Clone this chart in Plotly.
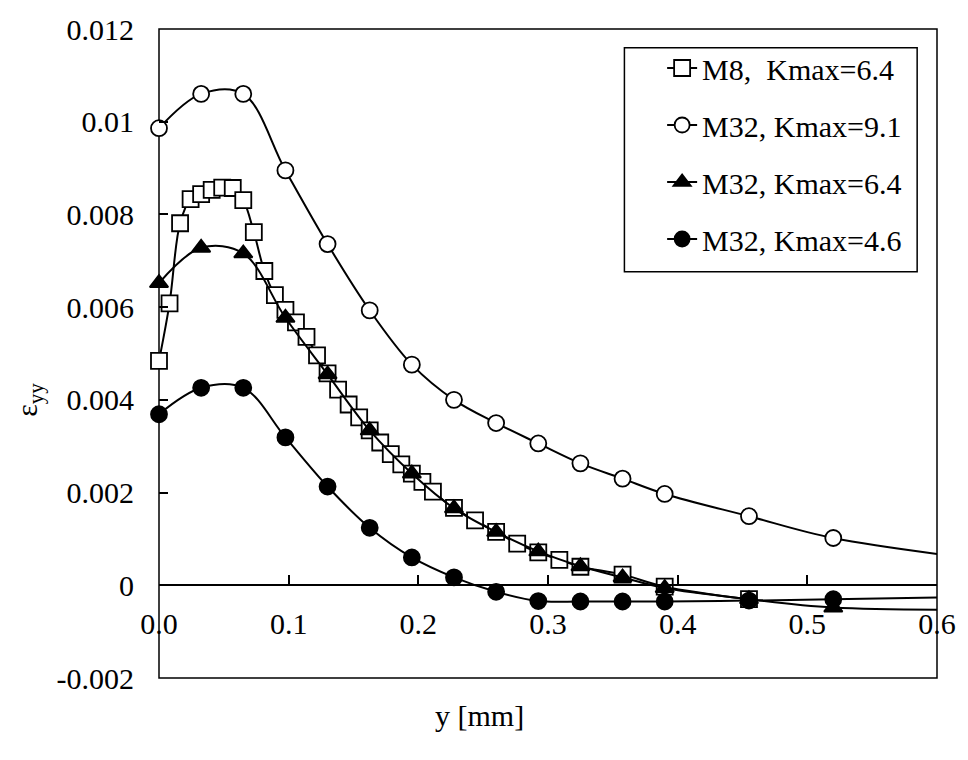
import plotly.graph_objects as go

# ---- data ----
x_m8 = [0, 0.008125, 0.01625, 0.024375, 0.0325, 0.040625, 0.04875, 0.056875,
        0.065, 0.073125, 0.08125, 0.089375, 0.0975, 0.105625, 0.11375, 0.121875,
        0.13, 0.138125, 0.14625, 0.154375, 0.1625, 0.170625, 0.17875, 0.186875,
        0.195, 0.203125, 0.21125, 0.2275, 0.24375, 0.26, 0.27625, 0.2925,
        0.30875, 0.325, 0.3575, 0.39, 0.455]
y_m8 = [0.00484, 0.00608, 0.00781, 0.00833, 0.00844, 0.00853, 0.00858, 0.00857,
        0.00831, 0.00762, 0.00678, 0.00626, 0.00594, 0.00567, 0.00536, 0.00496,
        0.00457, 0.00422, 0.00390, 0.00362, 0.00334, 0.00308, 0.00283, 0.00261,
        0.00241, 0.00223, 0.00202, 0.00167, 0.00140, 0.00115, 0.00090, 0.00071,
        0.00055, 0.00040, 0.00023, -0.00003, -0.00030]

# M32 series share x positions; the last point lies beyond the axis range (line only)
x_m32 = [0, 0.0325, 0.065, 0.0975, 0.13, 0.1625, 0.195, 0.2275, 0.26, 0.2925,
         0.325, 0.3575, 0.39, 0.455, 0.52, 0.65]
y_k91 = [0.00986, 0.01060, 0.01060, 0.00895, 0.00736, 0.00593, 0.00476, 0.00400,
         0.00350, 0.00306, 0.00263, 0.00230, 0.00197, 0.00149, 0.00102, 0.00050]
y_k64 = [0.00652, 0.00728, 0.00716, 0.00577, 0.00455, 0.00334, 0.00241, 0.00166,
         0.00115, 0.00073, 0.00041, 0.00017, -0.00006, -0.00030, -0.00048, -0.00053]
y_k46 = [0.00369, 0.00426, 0.00426, 0.00319, 0.00213, 0.00124, 0.00060, 0.00017,
         -0.00014, -0.00034, -0.00035, -0.00035, -0.00035, -0.00033, -0.00030, -0.00024]

names = ["M8,  Kmax=6.4", "M32, Kmax=9.1", "M32, Kmax=6.4", "M32, Kmax=4.6"]

x_ticks = [0, 0.1, 0.2, 0.3, 0.4, 0.5, 0.6]
x_ticklabels = ["0.0", "0.1", "0.2", "0.3", "0.4", "0.5", "0.6"]
y_ticks = [-0.002, 0, 0.002, 0.004, 0.006, 0.008, 0.01, 0.012]
y_ticklabels = ["-0.002", "0", "0.002", "0.004", "0.006", "0.008", "0.01", "0.012"]
x_range = [0, 0.6]
y_range = [-0.002, 0.012]

FONT = "'Liberation Serif', 'Times New Roman', Times, serif"
MS = 16

fig = go.Figure()


def add(xs, ys, name, symbol, fill, hide_last, group):
    n = len(xs)
    sizes = [MS] * n
    if hide_last:
        sizes[-1] = 0
    fig.add_trace(go.Scatter(
        x=xs, y=ys, name=name, mode="lines+markers",
        line=dict(color="black", width=2, shape="spline", smoothing=1.0),
        marker=dict(symbol=symbol, size=sizes, color=fill, opacity=1,
                    line=dict(color="black", width=1.8)),
        cliponaxis=False, legendgroup=group,
    ))


add(x_m8, y_m8, names[0], "square", "white", False, "a")
add(x_m32, y_k91, names[1], "circle", "white", True, "b")
add(x_m32, y_k64, names[2], "triangle-up", "black", True, "c")
add(x_m32, y_k46, names[3], "circle", "black", True, "d")

W, H, L, B = 784, 658, 159, 678
zero_pos = (0 - y_range[0]) / (y_range[1] - y_range[0])

fig.add_shape(type="rect", xref="paper", yref="paper", x0=0, x1=1, y0=0, y1=1,
              line=dict(color="black", width=1.5), layer="below")
# legend frame
fig.add_shape(type="rect", xref="paper", yref="paper",
              x0=(628 - L) / W, x1=(923 - L) / W,
              y0=(B - 266) / H, y1=(B - 39) / H,
              line=dict(color="black", width=1.5), fillcolor="white", layer="above")

tf = dict(family=FONT, size=30, color="black")

fig.update_layout(
    width=968, height=760,
    margin=dict(l=159, r=25, t=20, b=82, pad=0),
    paper_bgcolor="white", plot_bgcolor="white",
    showlegend=True,
    legend=dict(
        x=(666 - L) / W, y=0.98, xanchor="left", yanchor="top",
        bgcolor="rgba(0,0,0,0)", borderwidth=0, font=tf,
        itemwidth=30, tracegroupgap=15, traceorder="grouped",
    ),
    xaxis=dict(
        range=x_range, anchor="free", position=zero_pos,
        tickvals=x_ticks, ticktext=x_ticklabels,
        ticks="inside", ticklen=10, tickwidth=1.5, tickcolor="black",
        showline=True, linecolor="black", linewidth=1.5,
        showgrid=False, zeroline=False, ticklabelstandoff=12, tickfont=tf,
    ),
    yaxis=dict(
        range=y_range, domain=[0, 1],
        tickvals=y_ticks, ticktext=y_ticklabels,
        ticks="inside", ticklen=9, tickwidth=1.5, tickcolor="black",
        showline=False, showgrid=False, zeroline=False, ticklabelstandoff=24,
        tickfont=tf,
    ),
    annotations=[
        dict(text="ε<sub>yy</sub>", xref="paper", yref="paper",
             x=(28 - L) / W, y=(B - 396) / H, textangle=-90,
             showarrow=False, xanchor="center", yanchor="middle", font=tf),
        dict(text="y [mm]", xref="paper", yref="paper",
             x=(482 - L) / W, y=(B - 716) / H,
             showarrow=False, xanchor="center", yanchor="middle", font=tf),
    ],
)

fig.write_html("out.html")
